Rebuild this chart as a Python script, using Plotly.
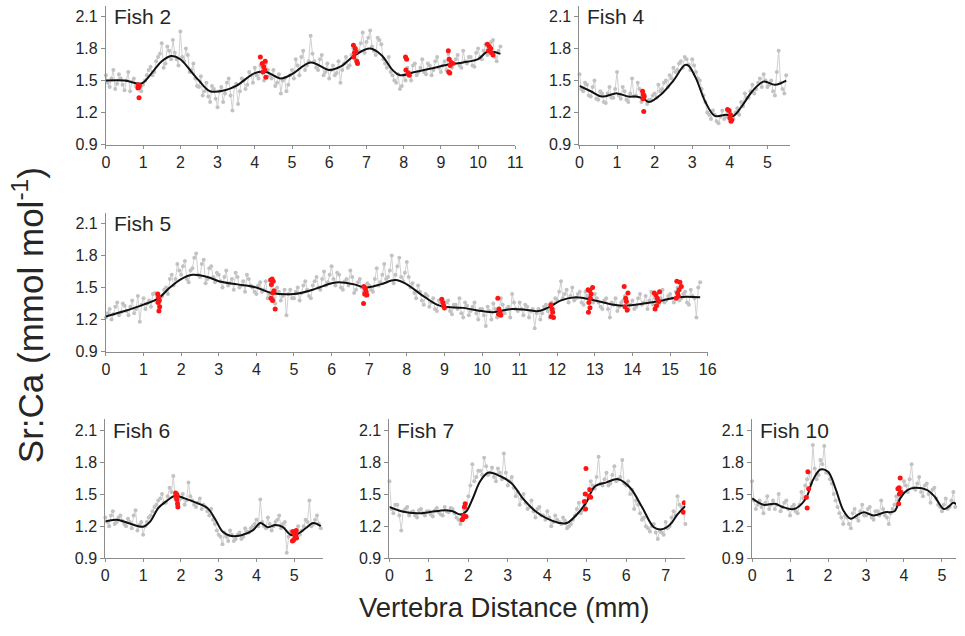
import numpy as np
import plotly.graph_objects as go

W, H = 965, 636
STEP = 0.1  # spacing of each Sr:Ca transect (mm); the second transect is offset by half a step

# ---------------- Fish 2 ----------------
fish2_grey = [
    1.55, 1.44, 1.60, 1.47, 1.52, 1.41, 1.58, 1.49, 1.45, 1.43,
    1.46, 1.55, 1.63, 1.58, 1.72, 1.85, 1.66, 1.78, 1.88, 1.70,
    1.96, 1.68, 1.74, 1.60, 1.52, 1.44, 1.36, 1.48, 1.30, 1.42,
    1.25, 1.44, 1.38, 1.52, 1.22, 1.47, 1.40, 1.50, 1.46, 1.55,
    1.62, 1.52, 1.58, 1.66, 1.55, 1.60, 1.48, 1.38, 1.52, 1.46,
    1.60, 1.70, 1.55, 1.78, 1.64, 1.92, 1.68, 1.60, 1.74, 1.58,
    1.52, 1.64, 1.57, 1.48, 1.66, 1.62, 1.74, 1.70, 1.78, 1.95,
    1.86, 1.97, 1.78, 1.90, 1.84, 1.66, 1.72, 1.55, 1.48, 1.42,
    1.55, 1.62, 1.50, 1.66, 1.58, 1.70, 1.56, 1.64, 1.60, 1.72,
    1.58, 1.68, 1.75, 1.62, 1.70, 1.64, 1.78, 1.66, 1.72, 1.63,
    1.80, 1.70, 1.84, 1.76, 1.88, 1.68, 1.82,
]
fish2_grey_half = [
    1.48, 1.52, 1.42, 1.56, 1.46, 1.50, 1.40, 1.52, 1.47, 1.40,
    1.50, 1.60, 1.55, 1.68, 1.75, 1.62, 1.82, 1.70, 1.76, 1.64,
    1.72, 1.80, 1.58, 1.66, 1.45, 1.54, 1.40, 1.35, 1.45, 1.33,
    1.40, 1.30, 1.48, 1.36, 1.44, 1.28, 1.52, 1.42, 1.58, 1.48,
    1.55, 1.64, 1.50, 1.60, 1.52, 1.45, 1.56, 1.50, 1.40, 1.55,
    1.52, 1.64, 1.72, 1.60, 1.68, 1.75, 1.62, 1.70, 1.55, 1.66,
    1.60, 1.55, 1.68, 1.60, 1.72, 1.64, 1.80, 1.68, 1.85, 1.76,
    1.90, 1.82, 1.74, 1.88, 1.70, 1.62, 1.58, 1.50, 1.56, 1.45,
    1.50, 1.58, 1.64, 1.55, 1.62, 1.58, 1.66, 1.55, 1.68, 1.62,
    1.64, 1.60, 1.70, 1.66, 1.74, 1.62, 1.68, 1.72, 1.64, 1.76,
    1.72, 1.78, 1.74, 1.86, 1.72, 1.78,
]
fish2_fit_x = [0, 0.5, 0.9, 1.0, 1.3, 1.5, 1.75, 2.0, 2.3, 2.5, 2.8, 3.2, 3.5, 4.0,
               4.3, 4.7, 5.0, 5.5, 6.0, 6.3, 6.7, 7.1, 7.4, 7.7, 7.9, 8.3, 8.7, 9.2,
               9.6, 10.0, 10.25, 10.6]
fish2_fit_y = [1.50, 1.50, 1.47, 1.48, 1.60, 1.68, 1.73, 1.70, 1.58, 1.50, 1.40, 1.41,
               1.45, 1.57, 1.58, 1.52, 1.56, 1.67, 1.60, 1.63, 1.74, 1.80, 1.74, 1.60,
               1.55, 1.58, 1.61, 1.65, 1.67, 1.70, 1.77, 1.75]
fish2_red_x = [0.86, 0.88, 0.90, 0.87, 0.89,
               4.15, 4.20, 4.24, 4.27, 4.22, 4.30, 4.28,
               6.65, 6.70, 6.72, 6.68, 6.66, 6.74, 6.76,
               8.05, 8.08, 8.06, 8.12, 8.15,
               9.20, 9.22, 9.28, 9.25, 9.21, 9.24, 9.32,
               10.25, 10.30, 10.34, 10.28, 10.36, 10.40]
fish2_red_y = [1.43, 1.44, 1.45, 1.46, 1.34,
               1.72, 1.66, 1.63, 1.60, 1.58, 1.53, 1.68,
               1.83, 1.80, 1.77, 1.76, 1.72, 1.68, 1.66,
               1.72, 1.70, 1.60, 1.57, 1.55,
               1.78, 1.70, 1.67, 1.64, 1.58, 1.57, 1.66,
               1.84, 1.82, 1.80, 1.78, 1.76, 1.74]

# ---------------- Fish 4 ----------------
fish4_grey = [
    1.56, 1.40, 1.46, 1.35, 1.50, 1.32, 1.38, 1.29, 1.44, 1.34,
    1.58, 1.33, 1.40, 1.30, 1.52, 1.36, 1.42, 1.34, 1.28, 1.32,
    1.38, 1.46, 1.42, 1.50, 1.55, 1.62, 1.60, 1.68, 1.72, 1.65,
    1.70, 1.58, 1.50, 1.36, 1.20, 1.14, 1.18, 1.10, 1.22, 1.16,
    1.20, 1.14, 1.24, 1.30, 1.38, 1.34, 1.46, 1.42, 1.52, 1.56,
    1.44, 1.50, 1.36, 1.78, 1.42, 1.55,
]
fish4_grey_half = [
    1.42, 1.48, 1.36, 1.44, 1.33, 1.40, 1.30, 1.38, 1.34, 1.42,
    1.36, 1.44, 1.32, 1.38, 1.35, 1.48, 1.30, 1.36, 1.32, 1.36,
    1.34, 1.40, 1.48, 1.44, 1.52, 1.58, 1.66, 1.62, 1.70, 1.60,
    1.64, 1.52, 1.42, 1.30, 1.18, 1.22, 1.12, 1.16, 1.14, 1.20,
    1.16, 1.20, 1.18, 1.26, 1.34, 1.40, 1.38, 1.48, 1.44, 1.50,
    1.46, 1.40, 1.58, 1.48, 1.38,
]
fish4_fit_x = [0, 0.3, 0.6, 1.0, 1.3, 1.5, 1.7, 1.85, 2.2, 2.5, 2.8, 2.9, 3.1, 3.35,
               3.6, 3.9, 4.1, 4.3, 4.6, 4.9, 5.2, 5.5]
fish4_fit_y = [1.45, 1.40, 1.35, 1.38, 1.35, 1.35, 1.33, 1.30, 1.38, 1.50, 1.645, 1.64,
               1.52, 1.30, 1.17, 1.18, 1.17, 1.25, 1.40, 1.49, 1.46, 1.50]
fish4_red_x = [1.68, 1.70, 1.72, 1.69, 1.71,
               3.94, 3.98, 4.02, 4.00, 4.05, 4.03]
fish4_red_y = [1.40, 1.37, 1.35, 1.33, 1.21,
               1.23, 1.22, 1.18, 1.15, 1.13, 1.12]

# ---------------- Fish 5 ----------------
fish5_grey = [
    1.22, 1.30, 1.25, 1.36, 1.27, 1.33, 1.24, 1.38, 1.30, 1.18,
    1.40, 1.35, 1.32, 1.45, 1.28, 1.42, 1.50, 1.58, 1.52, 1.72,
    1.62, 1.75, 1.55, 1.68, 1.82, 1.60, 1.76, 1.58, 1.70, 1.55,
    1.62, 1.50, 1.66, 1.54, 1.48, 1.60, 1.52, 1.46, 1.58, 1.50,
    1.44, 1.55, 1.48, 1.40, 1.52, 1.35, 1.46, 1.42, 1.24, 1.48,
    1.40, 1.50, 1.45, 1.56, 1.42, 1.52, 1.60, 1.48, 1.65, 1.55,
    1.70, 1.52, 1.62, 1.48, 1.58, 1.66, 1.45, 1.55, 1.50, 1.42,
    1.52, 1.46, 1.68, 1.55, 1.72, 1.60, 1.80, 1.62, 1.78, 1.56,
    1.74, 1.50, 1.45, 1.52, 1.38, 1.44, 1.32, 1.40, 1.28, 1.36,
    1.30, 1.38, 1.25, 1.34, 1.40, 1.22, 1.33, 1.28, 1.36, 1.20,
    1.30, 1.14, 1.28, 1.35, 1.22, 1.40, 1.26, 1.32, 1.44, 1.30,
    1.36, 1.24, 1.32, 1.28, 1.12, 1.30, 1.26, 1.34, 1.22, 1.30,
    1.38, 1.56, 1.44, 1.36, 1.50, 1.40, 1.46, 1.34, 1.42, 1.48,
    1.44, 1.36, 1.30, 1.40, 1.22, 1.34, 1.28, 1.36, 1.42, 1.30,
    1.38, 1.32, 1.44, 1.36, 1.30, 1.46, 1.40, 1.34, 1.48, 1.38,
    1.44, 1.36, 1.50, 1.40, 1.46, 1.34, 1.42, 1.22, 1.55,
]
fish5_grey_half = [
    1.26, 1.20, 1.32, 1.24, 1.35, 1.28, 1.32, 1.26, 1.42, 1.34,
    1.30, 1.38, 1.44, 1.36, 1.40, 1.48, 1.44, 1.62, 1.58, 1.66,
    1.70, 1.58, 1.66, 1.78, 1.62, 1.72, 1.54, 1.68, 1.60, 1.64,
    1.56, 1.60, 1.52, 1.58, 1.64, 1.50, 1.56, 1.62, 1.52, 1.46,
    1.52, 1.46, 1.56, 1.44, 1.40, 1.50, 1.38, 1.48, 1.44, 1.40,
    1.46, 1.38, 1.52, 1.48, 1.40, 1.56, 1.50, 1.58, 1.52, 1.62,
    1.58, 1.64, 1.50, 1.56, 1.52, 1.60, 1.48, 1.58, 1.46, 1.54,
    1.48, 1.58, 1.52, 1.62, 1.58, 1.66, 1.54, 1.70, 1.60, 1.64,
    1.60, 1.54, 1.40, 1.46, 1.34, 1.42, 1.36, 1.30, 1.38, 1.32,
    1.36, 1.28, 1.34, 1.30, 1.26, 1.36, 1.24, 1.32, 1.26, 1.30,
    1.24, 1.32, 1.20, 1.30, 1.26, 1.34, 1.30, 1.22, 1.36, 1.28,
    1.30, 1.34, 1.22, 1.30, 1.26, 1.20, 1.32, 1.28, 1.36, 1.40,
    1.46, 1.40, 1.48, 1.42, 1.38, 1.44, 1.36, 1.46, 1.40, 1.36,
    1.40, 1.32, 1.38, 1.30, 1.36, 1.40, 1.32, 1.38, 1.28, 1.34,
    1.30, 1.40, 1.34, 1.42, 1.38, 1.34, 1.44, 1.40, 1.36, 1.42,
    1.40, 1.46, 1.38, 1.44, 1.36, 1.48, 1.40, 1.50,
]
fish5_fit_x = [0, 0.5, 1.0, 1.4, 1.7, 2.0, 2.3, 2.7, 3.0, 3.5, 4.0, 4.4, 5.0, 5.5, 6.0,
               6.2, 6.6, 6.9, 7.3, 7.7, 8.0, 8.4, 8.8, 9.0, 9.5, 10.0, 10.3, 10.8, 11.2,
               11.5, 11.8, 12.1, 12.5, 13.0, 13.5, 13.8, 14.3, 14.8, 15.2, 15.8]
fish5_fit_y = [1.23, 1.28, 1.34, 1.40, 1.50, 1.58, 1.62, 1.60, 1.56, 1.53, 1.50, 1.45,
               1.44, 1.48, 1.54, 1.55, 1.53, 1.50, 1.53, 1.57, 1.53, 1.43, 1.34, 1.32,
               1.31, 1.28, 1.27, 1.30, 1.29, 1.28, 1.32, 1.38, 1.41, 1.38, 1.34, 1.33,
               1.35, 1.38, 1.41, 1.41]
fish5_red_x = [1.38, 1.40, 1.42, 1.39, 1.43, 1.41,
               4.38, 4.42, 4.45, 4.40, 4.47, 4.44, 4.39, 4.43, 4.50,
               6.86, 6.90, 6.92, 6.88, 6.94, 6.85,
               8.93, 8.96, 8.98, 9.00,
               10.42, 10.45, 10.48, 10.44, 10.50,
               11.83, 11.86, 11.88, 11.84, 11.90,
               12.82, 12.86, 12.94, 12.90, 12.88, 12.84, 12.87, 12.83,
               13.78, 13.88, 13.82, 13.84, 13.80, 13.86,
               14.58, 14.62, 14.66, 14.70, 14.64, 14.60, 14.72,
               15.18, 15.26, 15.30, 15.24, 15.20, 15.22, 15.16]
fish5_red_y = [1.44, 1.41, 1.38, 1.36, 1.32, 1.28,
               1.57, 1.58, 1.56, 1.53, 1.47, 1.45, 1.40, 1.38, 1.30,
               1.51, 1.49, 1.46, 1.44, 1.43, 1.35,
               1.39, 1.36, 1.33, 1.31,
               1.40, 1.30, 1.27, 1.25, 1.24,
               1.34, 1.30, 1.27, 1.23, 1.22,
               1.48, 1.47, 1.50, 1.44, 1.40, 1.36, 1.31, 1.27,
               1.51, 1.45, 1.40, 1.37, 1.32, 1.29,
               1.45, 1.43, 1.40, 1.37, 1.33, 1.30, 1.46,
               1.56, 1.55, 1.51, 1.48, 1.45, 1.42, 1.40]

# ---------------- Fish 6 ----------------
fish6_grey = [
    1.28, 1.20, 1.34, 1.24, 1.30, 1.22, 1.27, 1.18, 1.35, 1.21,
    1.12, 1.24, 1.30, 1.38, 1.44, 1.50, 1.42, 1.56, 1.67, 1.50,
    1.46, 1.40, 1.61, 1.44, 1.38, 1.46, 1.40, 1.34, 1.36, 1.22,
    1.12, 1.03, 1.10, 1.16, 1.06, 1.12, 1.08, 1.18, 1.14, 1.20,
    1.26, 1.45, 1.20, 1.28, 1.16, 1.24, 1.30, 1.22, 0.95, 1.15,
    1.10, 1.20, 1.16, 1.26, 1.44, 1.22, 1.30, 1.18,
]
fish6_grey_half = [
    1.24, 1.30, 1.22, 1.28, 1.25, 1.20, 1.24, 1.30, 1.16, 1.24,
    1.20, 1.28, 1.34, 1.40, 1.46, 1.42, 1.48, 1.52, 1.46, 1.44,
    1.50, 1.44, 1.48, 1.40, 1.42, 1.36, 1.38, 1.30, 1.26, 1.16,
    1.10, 1.14, 1.06, 1.12, 1.08, 1.14, 1.10, 1.15, 1.18, 1.22,
    1.20, 1.24, 1.18, 1.22, 1.20, 1.26, 1.18, 1.24, 1.10, 1.12,
    1.14, 1.12, 1.20, 1.24, 1.20, 1.26, 1.22,
]
fish6_fit_x = [0, 0.3, 0.6, 1.0, 1.2, 1.4, 1.6, 1.85, 2.1, 2.4, 2.7, 2.9, 3.1, 3.3,
               3.6, 3.9, 4.1, 4.3, 4.5, 4.7, 4.9, 5.1, 5.3, 5.5, 5.7]
fish6_fit_y = [1.245, 1.26, 1.23, 1.195, 1.25, 1.37, 1.43, 1.485, 1.46, 1.42, 1.37,
               1.27, 1.15, 1.11, 1.115, 1.16, 1.23, 1.19, 1.21, 1.19, 1.12, 1.13, 1.18,
               1.23, 1.20]
fish6_red_x = [1.86, 1.88, 1.90, 1.87, 1.89, 1.91, 1.92,
               4.96, 5.00, 5.04, 5.02, 5.06, 4.98, 4.95, 5.05]
fish6_red_y = [1.51, 1.50, 1.49, 1.48, 1.45, 1.41, 1.38,
               1.15, 1.13, 1.12, 1.10, 1.09, 1.07, 1.06, 1.16]

# ---------------- Fish 7 ----------------
fish7_grey = [
    1.62, 1.32, 1.40, 1.16, 1.36, 1.30, 1.34, 1.28, 1.36, 1.30,
    1.34, 1.29, 1.37, 1.31, 1.38, 1.33, 1.36, 1.28, 1.22, 1.35,
    1.48, 1.78, 1.66, 1.72, 1.84, 1.68, 1.75, 1.62, 1.70, 1.88,
    1.58, 1.66, 1.48, 1.40, 1.50, 1.36, 1.44, 1.28, 1.38, 1.30,
    1.34, 1.20, 1.30, 1.24, 1.28, 1.18, 1.22, 1.30, 1.42, 1.35,
    1.50, 1.62, 1.55, 1.85, 1.58, 1.70, 1.60, 1.76, 1.64, 1.82,
    1.58, 1.50, 1.36, 1.40, 1.26, 1.20, 1.15, 1.22, 1.08, 1.14,
    1.24, 1.20, 1.34, 1.48, 1.38, 1.22,
]
fish7_grey_half = [
    1.36, 1.40, 1.30, 1.34, 1.38, 1.33, 1.30, 1.35, 1.32, 1.34,
    1.31, 1.35, 1.33, 1.30, 1.34, 1.37, 1.32, 1.26, 1.30, 1.36,
    1.58, 1.62, 1.72, 1.68, 1.76, 1.70, 1.66, 1.74, 1.64, 1.70,
    1.62, 1.56, 1.52, 1.46, 1.42, 1.38, 1.34, 1.36, 1.30, 1.26,
    1.28, 1.24, 1.26, 1.22, 1.25, 1.20, 1.26, 1.36, 1.32, 1.40,
    1.55, 1.58, 1.66, 1.60, 1.64, 1.58, 1.68, 1.62, 1.66, 1.60,
    1.62, 1.54, 1.44, 1.32, 1.28, 1.18, 1.20, 1.14, 1.16, 1.12,
    1.18, 1.28, 1.30, 1.40, 1.34,
]
fish7_fit_x = [0, 0.3, 0.7, 1.0, 1.4, 1.6, 1.8, 1.95, 2.1, 2.3, 2.5, 2.8, 3.1, 3.4,
               3.7, 4.0, 4.3, 4.5, 4.8, 5.0, 5.2, 5.5, 5.8, 6.1, 6.4, 6.7, 6.9, 7.1,
               7.3, 7.5]
fish7_fit_y = [1.38, 1.34, 1.32, 1.33, 1.35, 1.34, 1.31, 1.34, 1.45, 1.62, 1.70, 1.67,
               1.60, 1.45, 1.34, 1.27, 1.23, 1.23, 1.33, 1.43, 1.57, 1.61, 1.64, 1.56,
               1.38, 1.19, 1.17, 1.21, 1.31, 1.39]
fish7_red_x = [1.92, 1.90, 1.88, 1.94, 1.86, 1.84,
               4.98, 5.08, 4.96, 5.06, 5.10, 4.94, 4.97,
               7.47, 7.45]
fish7_red_y = [1.41, 1.38, 1.30, 1.29, 1.27, 1.26,
               1.74, 1.54, 1.50, 1.48, 1.47, 1.43, 1.36,
               1.42, 1.33]

# ---------------- Fish 10 ----------------
fish10_grey = [
    1.62, 1.36, 1.44, 1.32, 1.48, 1.40, 1.36, 1.50, 1.38, 1.44,
    1.30, 1.40, 1.32, 1.52, 1.58, 1.70, 1.96, 1.64, 1.82, 1.95,
    1.70, 1.60, 1.44, 1.32, 1.22, 1.28, 1.18, 1.36, 1.25, 1.40,
    1.30, 1.38, 1.26, 1.34, 1.44, 1.30, 1.22, 1.36, 1.48, 1.56,
    1.62, 1.52, 1.78, 1.54, 1.66, 1.48, 1.60, 1.42, 1.56, 1.40,
    1.34, 1.46, 1.38, 1.52, 1.40,
]
fish10_grey_half = [
    1.44, 1.40, 1.38, 1.42, 1.36, 1.44, 1.40, 1.34, 1.42, 1.36,
    1.38, 1.34, 1.40, 1.46, 1.64, 1.60, 1.74, 1.68, 1.78, 1.70,
    1.64, 1.50, 1.38, 1.28, 1.30, 1.22, 1.32, 1.28, 1.34, 1.30,
    1.36, 1.28, 1.34, 1.30, 1.36, 1.28, 1.32, 1.40, 1.44, 1.52,
    1.58, 1.64, 1.56, 1.60, 1.52, 1.58, 1.50, 1.54, 1.46, 1.38,
    1.40, 1.36, 1.44, 1.38,
]
fish10_fit_x = [0, 0.3, 0.6, 0.8, 1.1, 1.4, 1.6, 1.8, 2.0, 2.2, 2.4, 2.6, 2.8, 2.95,
                3.2, 3.5, 3.75, 3.9, 4.1, 4.3, 4.6, 4.8, 5.05, 5.2, 5.3, 5.4]
fish10_fit_y = [1.46, 1.40, 1.41, 1.38, 1.36, 1.45, 1.63, 1.73, 1.71, 1.55, 1.35,
                1.27, 1.31, 1.33, 1.30, 1.33, 1.34, 1.46, 1.54, 1.56, 1.54, 1.48,
                1.36, 1.39, 1.42, 1.40]
fish10_red_x = [1.47, 1.49, 1.43, 1.45,
                3.90, 3.87, 3.84, 3.91, 3.88, 3.86]
fish10_red_y = [1.71, 1.55, 1.47, 1.37,
                1.65, 1.56, 1.55, 1.52, 1.50, 1.41]

# Y axis: common for every panel
y_ticks = [0.9, 1.2, 1.5, 1.8, 2.1]
y_range = [0.9, 2.2]

# Panel layout in pixels:
# (label, grey, grey_half, fit_x, fit_y, red_x, red_y, x_max, left, right, top, bottom)
panels = [
    ("Fish 2", fish2_grey, fish2_grey_half, fish2_fit_x, fish2_fit_y, fish2_red_x, fish2_red_y,
     11, 103.3, 518.3, 5.9, 146.7),
    ("Fish 4", fish4_grey, fish4_grey_half, fish4_fit_x, fish4_fit_y, fish4_red_x, fish4_red_y,
     5.6, 583.3, 796.7, 5.9, 146.7),
    ("Fish 5", fish5_grey, fish5_grey_half, fish5_fit_x, fish5_fit_y, fish5_red_x, fish5_red_y,
     16, 103.3, 713.3, 215.9, 356.7),
    ("Fish 6", fish6_grey, fish6_grey_half, fish6_fit_x, fish6_fit_y, fish6_red_x, fish6_red_y,
     5.75, 102.7, 323.0, 425.4, 566.2),
    ("Fish 7", fish7_grey, fish7_grey_half, fish7_fit_x, fish7_fit_y, fish7_red_x, fish7_red_y,
     7.5, 390.7, 690.7, 425.4, 566.2),
    ("Fish 10", fish10_grey, fish10_grey_half, fish10_fit_x, fish10_fit_y, fish10_red_x, fish10_red_y,
     5.37, 758.3, 965.0, 425.4, 566.2),
]

AXIS_GREY = "#8c8c8c"
TEXT = "#262626"
FONT = "Liberation Sans, Arial, sans-serif"

fig = go.Figure()
layout = {}
annotations = []

for i, (label, grey, half, fx, fy, rx, ry, xmax, left, right, top, bottom) in enumerate(panels, start=1):
    suffix = "" if i == 1 else str(i)
    xa, ya = "x" + suffix, "y" + suffix

    # merge the two interleaved transects into one ordered series
    x_all = np.concatenate([np.arange(len(grey)) * STEP, np.arange(len(half)) * STEP + STEP / 2])
    y_all = np.concatenate([np.asarray(grey), np.asarray(half)])
    order = np.argsort(x_all, kind="stable")
    gx, gy = np.round(x_all[order], 3), y_all[order]

    fig.add_trace(go.Scatter(
        x=gx, y=gy, mode="lines+markers", xaxis=xa, yaxis=ya,
        line=dict(color="#d0d0d0", width=1),
        marker=dict(color="#c2c2c2", size=4),
        showlegend=False, cliponaxis=False,
    ))
    fig.add_trace(go.Scatter(
        x=fx, y=fy, mode="lines", xaxis=xa, yaxis=ya,
        line=dict(color="#111111", width=2, shape="spline", smoothing=1.0),
        showlegend=False,
    ))
    fig.add_trace(go.Scatter(
        x=rx, y=ry, mode="markers", xaxis=xa, yaxis=ya,
        marker=dict(color="#ff1414", size=5),
        showlegend=False,
    ))

    layout["xaxis" + suffix] = dict(
        domain=[left / W, right / W], anchor=ya, range=[0, xmax],
        tickmode="linear", tick0=0, dtick=1,
        showline=True, linecolor=AXIS_GREY, linewidth=1,
        ticks="outside", ticklen=3, tickcolor=AXIS_GREY,
        showgrid=False, zeroline=False,
        tickfont=dict(family=FONT, size=16, color=TEXT),
    )
    layout["yaxis" + suffix] = dict(
        domain=[1 - bottom / H, 1 - top / H], anchor=xa, range=y_range,
        tickvals=y_ticks, ticktext=[f"{v:.1f}" for v in y_ticks],
        showline=True, linecolor=AXIS_GREY, linewidth=1,
        ticks="outside", ticklen=4, tickcolor=AXIS_GREY,
        showgrid=False, zeroline=False,
        tickfont=dict(family=FONT, size=16, color=TEXT),
    )
    annotations.append(dict(
        text=label, xref=xa + " domain", yref=ya, x=0, y=2.1,
        xanchor="left", yanchor="middle", xshift=6, showarrow=False,
        font=dict(family=FONT, size=21, color=TEXT),
    ))

annotations.append(dict(
    text="Vertebra Distance (mm)", xref="paper", yref="paper",
    x=507 / W, y=1 - 616 / H, xanchor="center", yanchor="middle", showarrow=False,
    font=dict(family=FONT, size=27.5, color=TEXT),
))
annotations.append(dict(
    text="Sr:Ca (mmol mol<sup>-1</sup>)", xref="paper", yref="paper",
    x=25 / W, y=1 - 320 / H, xanchor="center", yanchor="middle", textangle=-90,
    showarrow=False, font=dict(family=FONT, size=35, color=TEXT),
))

fig.update_layout(
    width=W, height=H, margin=dict(l=0, r=0, t=0, b=0),
    paper_bgcolor="white", plot_bgcolor="white",
    annotations=annotations, **layout,
)

fig.write_html("out.html")
